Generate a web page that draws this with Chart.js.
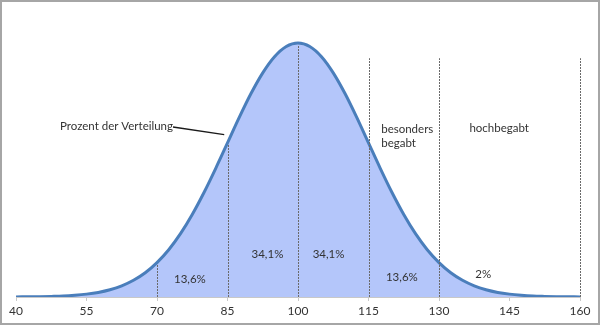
<!DOCTYPE html>
<html>
<head>
<meta charset="utf-8">
<script src="https://cdn.jsdelivr.net/npm/chart.js@4/dist/chart.umd.min.js"></script>
<style>
  html, body { margin: 0; padding: 0; background: #fff; }
  #wrap { width: 600px; height: 325px; position: relative; }
</style>
</head>
<body>
<div id="wrap"><canvas id="chart" width="600" height="325"></canvas></div>
<script>
// IQ scale (x) and share of the population per IQ point, in percent (y)
const iqValues = [
  40, 42.5, 45, 47.5, 50, 52.5, 55, 57.5, 60, 62.5, 65, 67.5, 70, 72.5, 75, 77.5,
  80, 82.5, 85, 87.5, 90, 92.5, 95, 97.5, 100, 102.5, 105, 107.5, 110, 112.5, 115,
  117.5, 120, 122.5, 125, 127.5, 130, 132.5, 135, 137.5, 140, 142.5, 145, 147.5,
  150, 152.5, 155, 157.5, 160
];
const density = [
  0.001, 0.002, 0.003, 0.006, 0.010, 0.018, 0.030, 0.048, 0.076, 0.117, 0.175, 0.254,
  0.360, 0.495, 0.663, 0.864, 1.094, 1.347, 1.613, 1.880, 2.130, 2.347, 2.516, 2.623,
  2.660,
  2.623, 2.516, 2.347, 2.130, 1.880, 1.613, 1.347, 1.094, 0.864, 0.663, 0.495, 0.360,
  0.254, 0.175, 0.117, 0.076, 0.048, 0.030, 0.018, 0.010, 0.006, 0.003, 0.002, 0.001
];
const tickLabels = [40, 55, 70, 85, 100, 115, 130, 145, 160];

// band boundaries drawn up to the curve, and full-height group boundaries
const bandLines = [70, 85, 100];
const groupLines = [115, 130, 160];

// share of each band: [text, x position (IQ), y position (%)]
const shareTexts = ['13,6%', '34,1%', '34,1%', '13,6%', '2%'];
const shareX = [77, 93.5, 106.5, 122.1, 139.4];
const shareY = [0.19, 0.45, 0.45, 0.21, 0.24];

// group names
const groupTexts = [['besonders', 'begabt'], ['hochbegabt']];
const groupX = [117.7, 142.8];
const groupY = [1.76, 1.77];

const pointerText = 'Prozent der Verteilung';

const FONT = '11.5px Lato, "Open Sans", sans-serif';
const TEXT_COLOR = '#333333';
const TOP_VALUE = 2.5;

const points = iqValues.map((x, i) => ({ x: x, y: density[i] }));

function densityAt(v) {
  const i = iqValues.indexOf(v);
  return i >= 0 ? density[i] : 0;
}

const overlay = {
  id: 'overlay',
  afterDatasetsDraw(chart) {
    const { ctx, scales: { x, y } } = chart;
    ctx.save();
    ctx.strokeStyle = '#6a6a6a';
    ctx.lineWidth = 1;
    ctx.setLineDash([2, 1]);
    bandLines.forEach(v => {
      const px = Math.round(x.getPixelForValue(v)) + 0.5;
      ctx.beginPath();
      ctx.moveTo(px, y.getPixelForValue(0));
      ctx.lineTo(px, y.getPixelForValue(densityAt(v)) + 2);
      ctx.stroke();
    });
    groupLines.forEach(v => {
      const px = Math.round(x.getPixelForValue(v)) + 0.5;
      ctx.beginPath();
      ctx.moveTo(px, y.getPixelForValue(0));
      ctx.lineTo(px, y.getPixelForValue(TOP_VALUE));
      ctx.stroke();
    });
    ctx.setLineDash([]);

    ctx.font = FONT;
    ctx.fillStyle = TEXT_COLOR;
    ctx.textBaseline = 'middle';
    ctx.textAlign = 'center';
    shareTexts.forEach((t, i) => {
      ctx.fillText(t, x.getPixelForValue(shareX[i]), y.getPixelForValue(shareY[i]));
    });

    // "besonders begabt" left aligned, "hochbegabt" centred
    ctx.textAlign = 'left';
    groupTexts[0].forEach((t, j) => {
      ctx.fillText(t, x.getPixelForValue(groupX[0]), y.getPixelForValue(groupY[0]) + j * 14);
    });
    ctx.textAlign = 'center';
    groupTexts[1].forEach((t, j) => {
      ctx.fillText(t, x.getPixelForValue(groupX[1]), y.getPixelForValue(groupY[1]) + j * 14);
    });

    // pointer label and its leader line to the curve
    const lx = x.getPixelForValue(73.4);
    const ly = y.getPixelForValue(1.79);
    ctx.textAlign = 'right';
    ctx.fillText(pointerText, lx, ly);
    ctx.strokeStyle = '#1a1a1a';
    ctx.lineWidth = 1.5;
    ctx.beginPath();
    ctx.moveTo(lx, ly + 1);
    ctx.lineTo(x.getPixelForValue(84.3), y.getPixelForValue(1.70));
    ctx.stroke();
    ctx.restore();
  },
  afterDraw(chart) {
    const ctx = chart.ctx;
    ctx.save();
    ctx.strokeStyle = '#a6a6a6';
    ctx.lineWidth = 2;
    ctx.strokeRect(1, 1, chart.width - 2, chart.height - 2);
    ctx.restore();
  }
};

new Chart(document.getElementById('chart'), {
  type: 'line',
  data: {
    datasets: [{
      data: points,
      borderColor: '#4a7ebb',
      backgroundColor: '#b4c6fa',
      borderWidth: 3,
      fill: 'origin',
      pointRadius: 0,
      cubicInterpolationMode: 'monotone'
    }]
  },
  options: {
    responsive: false,
    animation: false,
    devicePixelRatio: 1,
    layout: { padding: { top: 20, left: 16, right: 20, bottom: 0 } },
    plugins: { legend: { display: false }, tooltip: { enabled: false } },
    scales: {
      x: {
        type: 'linear',
        min: 40,
        max: 160,
        afterBuildTicks(axis) {
          axis.ticks = tickLabels.map(v => ({ value: v }));
        },
        afterFit(axis) {
          axis.height = 28;
        },
        grid: { drawOnChartArea: false, drawTicks: true, tickLength: 4, color: '#c8c8c8' },
        border: { display: true, color: '#c8c8c8' },
        ticks: {
          padding: 3,
          maxRotation: 0,
          autoSkip: false,
          color: TEXT_COLOR,
          font: { family: 'Lato, "Open Sans", sans-serif', size: 12 }
        }
      },
      y: {
        display: false,
        min: 0,
        max: 2.9
      }
    }
  },
  plugins: [overlay]
});
</script>
</body>
</html>
